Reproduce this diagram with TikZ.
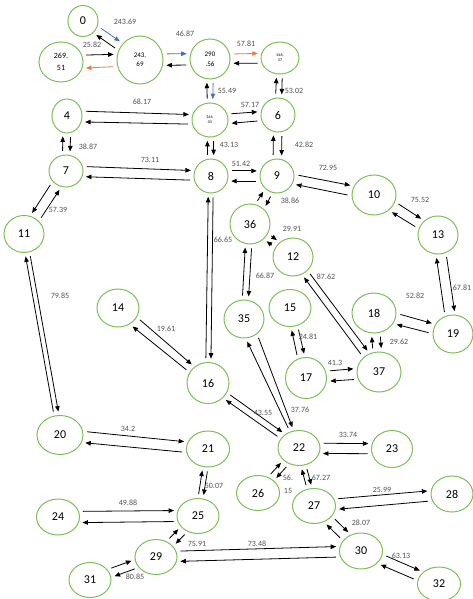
\documentclass[tikz,border=0pt]{standalone}
\usepackage{fontspec}
\setmainfont{Carlito}
\usetikzlibrary{shapes.geometric,arrows.meta,calc}
\definecolor{ngreen}{RGB}{125,190,85}
\definecolor{eblue}{RGB}{68,114,196}
\definecolor{eorange}{RGB}{237,125,49}
\definecolor{lgray}{RGB}{80,80,80}
\tikzset{
  nd/.style={ellipse, draw=ngreen, line width=1pt, inner sep=0pt, font=\fontsize{12}{12}\selectfont},
  ndsmall/.style={nd, align=center, font=\fontsize{7}{9}\selectfont},
  ndtiny/.style={nd, align=center, font=\fontsize{4}{5}\selectfont},
  arr/.style={-{Triangle[length=5.5pt,width=4.5pt]}, line width=0.8pt, shorten >=3.5pt, shorten <=4pt},
  lab/.style={font=\fontsize{8}{8}\selectfont, text=lgray, inner sep=0pt},
}
\newcommand\myedge[5][black]{%
  \draw[arr,color=#1] let \p1=($(#3)-(#2)$),
    \n1={int(round(atan2(\y1,\x1)+#4))},
    \n2={int(round(atan2(\y1,\x1)+180-#5))} in (#2.\n1) -- (#3.\n2);}
\newcommand\twoway[4]{\myedge{#1}{#2}{#3}{#4}\myedge{#2}{#1}{#4}{#3}}
\begin{document}
\begin{tikzpicture}[x=1pt,y=-1pt]
\useasboundingbox (0,0) rectangle (473,599);
% nodes
\node[nd, minimum width=30pt, minimum height=31pt] (n0) at (83,21) {0};
\node[ndsmall, minimum width=44pt, minimum height=40pt, font=\fontsize{8}{12}\selectfont] (nB) at (61,62) {269.\\51};
\node[ndsmall, minimum width=46pt, minimum height=48pt] (nA) at (140,60) {243.\\69};
\node[ndsmall, minimum width=40pt, minimum height=40pt, font=\fontsize{7}{10}\selectfont] (nC) at (210,59) {290\\.56};
\node[ndtiny, minimum width=38pt, minimum height=32pt] (nD) at (280,58) {348.\\37};
\node[nd, minimum width=34pt, minimum height=34pt] (n6) at (278,115) {6};
\node[ndtiny, minimum width=36pt, minimum height=34pt] (nE) at (210,120) {346.\\05};
\node[nd, minimum width=30pt, minimum height=34pt] (n4) at (67,116) {4};
\node[nd, minimum width=34pt, minimum height=32pt] (n7) at (66,171) {7};
\node[nd, minimum width=34pt, minimum height=34pt] (n8) at (211,176) {8};
\node[nd, minimum width=40pt, minimum height=37pt] (n11) at (24,234) {11};
\node[nd, minimum width=34pt, minimum height=34pt] (n9) at (277,176) {9};
\node[nd, minimum width=44pt, minimum height=40pt] (n10) at (374,195) {10};
\node[nd, minimum width=40pt, minimum height=38pt] (n13) at (438,235) {13};
\node[nd, minimum width=40pt, minimum height=40pt] (n36) at (250,224) {36};
\node[nd, minimum width=40pt, minimum height=38pt] (n12) at (293,257) {12};
\node[nd, minimum width=42pt, minimum height=38pt] (n14) at (118,308) {14};
\node[nd, minimum width=40pt, minimum height=38pt] (n35) at (244,319) {35};
\node[nd, minimum width=42pt, minimum height=37pt] (n15) at (290,308) {15};
\node[nd, minimum width=42pt, minimum height=41pt] (n16) at (208,383) {16};
\node[nd, minimum width=41pt, minimum height=41pt] (n17) at (306,378) {17};
\node[nd, minimum width=44pt, minimum height=40pt] (n18) at (374,313) {18};
\node[nd, minimum width=44pt, minimum height=40pt] (n37) at (379,372) {37};
\node[nd, minimum width=40pt, minimum height=38pt] (n19) at (453,334) {19};
\node[nd, minimum width=46pt, minimum height=39pt] (n20) at (60,435) {20};
\node[nd, minimum width=43pt, minimum height=36pt] (n21) at (208,449) {21};
\node[nd, minimum width=43pt, minimum height=36pt] (n24) at (58,517) {24};
\node[nd, minimum width=42pt, minimum height=35pt] (n25) at (198,516) {25};
\node[nd, minimum width=42pt, minimum height=35pt] (n29) at (156,557) {29};
\node[nd, minimum width=42pt, minimum height=35pt] (n31) at (90,580) {31};
\node[nd, minimum width=42pt, minimum height=35pt] (n22) at (299,448) {22};
\node[nd, minimum width=41pt, minimum height=37pt] (n23) at (392,449) {23};
\node[nd, minimum width=43pt, minimum height=35pt] (n26) at (258,493) {26};
\node[nd, minimum width=43pt, minimum height=35pt] (n27) at (314,506) {27};
\node[nd, minimum width=42pt, minimum height=36pt] (n28) at (452,494) {28};
\node[nd, minimum width=43pt, minimum height=36pt] (n30) at (361,551) {30};
\node[nd, minimum width=43pt, minimum height=34pt] (n32) at (439,584) {32};
% edges
\myedge[eblue]{n0}{nA}{15}{10}
\myedge{nA}{n0}{10}{15}
\myedge{nB}{nA}{17}{15}
\myedge[eorange]{nA}{nB}{15}{17}
\myedge[eblue]{nA}{nC}{14}{16}
\myedge{nC}{nA}{16}{14}
\myedge[eorange]{nC}{nD}{13}{15}
\myedge{nD}{nC}{15}{13}
\myedge[eblue]{nC}{nE}{9}{9}
\myedge{nE}{nC}{9}{9}
\twoway{nD}{n6}{10}{10}
\twoway{nE}{n6}{15}{15}
\twoway{n4}{nE}{20}{15}
\twoway{n4}{n7}{13}{13}
\twoway{n7}{n8}{17}{16}
\twoway{nE}{n8}{10}{10}
\twoway{n7}{n11}{-18}{-15}
\twoway{n8}{n9}{17}{17}
\twoway{n6}{n9}{14}{14}
\twoway{n9}{n10}{16}{13}
\twoway{n10}{n13}{14}{14}
\twoway{n13}{n19}{15}{15}
\twoway{n9}{n36}{14}{14}
\twoway{n36}{n12}{10}{10}
\twoway{n36}{n35}{9}{9}
\twoway{n12}{n37}{10}{10}
\twoway{n15}{n17}{10}{10}
\twoway{n17}{n37}{14}{14}
\twoway{n18}{n37}{12}{12}
\twoway{n18}{n19}{14}{14}
\twoway{n14}{n16}{14}{10}
\twoway{n8}{n16}{8}{7}
\twoway{n35}{n22}{18}{6}
\twoway{n16}{n22}{9}{9}
\twoway{n11}{n20}{7}{7}
\twoway{n20}{n21}{14}{14}
\twoway{n21}{n25}{8}{8}
\twoway{n24}{n25}{15}{15}
\twoway{n29}{n25}{12}{12}
\twoway{n31}{n29}{12}{12}
\twoway{n29}{n30}{14}{14}
\twoway{n22}{n23}{14}{14}
\twoway{n26}{n22}{10}{10}
\twoway{n22}{n27}{8}{8}
\twoway{n27}{n28}{14}{14}
\twoway{n27}{n30}{14}{14}
\twoway{n30}{n32}{14}{14}
% labels
\node[lab] (l1) at (125,22) {243.69};
\node[lab] (l2) at (92,45) {25.82};
\node[lab] (l3) at (185,34) {46.87};
\node[lab] (l4) at (246,44) {57.81};
\node[lab] (l5) at (227,91) {55.49};
\node[lab] (l6) at (294,91) {53.02};
\node[lab] (l7) at (250,105) {57.17};
\node[lab] (l8) at (142,102) {68.17};
\node[lab] (l9) at (88,147) {38.87};
\node[lab] (l10) at (150,160) {73.11};
\node[lab] (l11) at (229,145) {43.13};
\node[lab] (l12) at (58,210) {57.39};
\node[lab] (l13) at (241,164) {51.42};
\node[lab] (l14) at (304,145) {42.82};
\node[lab] (l15) at (328,168) {72.95};
\node[lab] (l16) at (420,200) {75.52};
\node[lab] (l17) at (462,288) {67.81};
\node[lab] (l18) at (290,201) {38.86};
\node[lab] (l19) at (292,229) {29.91};
\node[lab] (l20) at (265,276) {66.87};
\node[lab] (l21) at (326,277) {87.62};
\node[lab] (l22) at (308,337) {24.81};
\node[lab] (l23) at (335,363) {41.3};
\node[lab] (l24) at (399,342) {29.62};
\node[lab] (l25) at (415,296) {52.82};
\node[lab] (l26) at (166,329) {19.61};
\node[lab] (l27) at (223,240) {66.65};
\node[lab] (l28) at (300,410) {37.76};
\node[lab] (l29) at (263,413) {43.55};
\node[lab] (l30) at (60,296) {79.85};
\node[lab] (l31) at (128,429) {34.2};
\node[lab] (l32) at (214,486) {50.07};
\node[lab] (l33) at (128,503) {49.88};
\node[lab] (l34) at (197,544) {75.91};
\node[lab] (l35) at (135,577) {80.85};
\node[lab] (l36) at (257,544) {73.48};
\node[lab] (l37) at (348,435) {33.74};
\node[lab] (l38a) at (288,478) {56.};
\node[lab] (l38b) at (288,491) {15};
\node[lab] (l39) at (321,478) {67.27};
\node[lab] (l40) at (382,490) {25.99};
\node[lab] (l41) at (361,523) {28.07};
\node[lab] (l42) at (401,556) {63.13};
\end{tikzpicture}
\end{document}
